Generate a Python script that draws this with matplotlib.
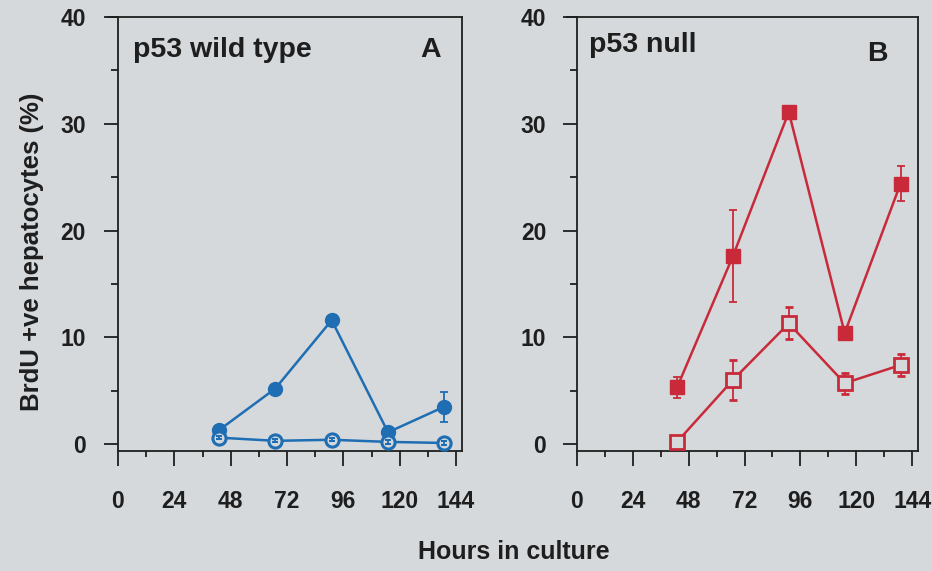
import matplotlib
matplotlib.use("Agg")
import matplotlib.pyplot as plt
from matplotlib.ticker import MultipleLocator
from matplotlib.lines import Line2D

hours = [43, 67, 91, 115, 139]

# Panel A: p53 wild type
wt_filled = [1.3, 5.2, 11.6, 1.1, 3.5]
wt_filled_err = [0.2, 0.2, 0.2, 0.2, 1.4]
wt_open = [0.6, 0.3, 0.4, 0.2, 0.1]
wt_open_err = [0.15, 0.15, 0.15, 0.15, 0.15]

# Panel B: p53 null
null_filled = [5.3, 17.6, 31.1, 10.4, 24.4]
null_filled_err = [1.0, 4.3, 0.3, 0.2, 1.6]
null_open = [0.2, 6.0, 11.3, 5.7, 7.4]
null_open_err = [0.3, 1.9, 1.5, 1.0, 1.0]

xticks = [0, 24, 48, 72, 96, 120, 144]
yticks = [0, 10, 20, 30, 40]

BG = "#d5d9dc"
BLUE = "#1f6db3"
RED = "#c92a3a"
INK = "#1e1e1e"
FONT = "Liberation Sans"

plt.rcParams["font.family"] = FONT
plt.rcParams["font.weight"] = "bold"

fig = plt.figure(figsize=(9.32, 5.71), dpi=100, facecolor=BG)
axA = fig.add_axes([0.1266, 0.2102, 0.3691, 0.7600])
axB = fig.add_axes([0.6190, 0.2102, 0.3660, 0.7600])

def style(ax, ypad):
    ax.set_facecolor(BG)
    ax.set_xlim(0, 146.5)
    ax.set_ylim(-0.65, 40)
    ax.set_xticks(xticks)
    ax.set_yticks(yticks)
    ax.xaxis.set_minor_locator(MultipleLocator(12))
    ax.yaxis.set_minor_locator(MultipleLocator(5))
    ax.tick_params(axis="x", which="major", direction="out", length=11, width=1.3,
                   pad=17, labelsize=16.5, colors=INK)
    ax.tick_params(axis="x", which="minor", direction="out", length=4, width=1.3, colors=INK)
    ax.tick_params(axis="y", which="major", direction="out", length=10, width=1.3,
                   pad=ypad, labelsize=16.5, colors=INK)
    ax.tick_params(axis="y", which="minor", direction="out", length=5, width=1.3, colors=INK)
    for s in ["left", "bottom", "right"]:
        ax.spines[s].set_linewidth(1.3)
        ax.spines[s].set_color(INK)
    ax.spines["top"].set_visible(False)
    ax.add_line(Line2D([-0.03, 1.0], [1.0, 1.0], transform=ax.transAxes,
                       color=INK, lw=1.3, clip_on=False))
    for lab in ax.get_xticklabels() + ax.get_yticklabels():
        lab.set_fontweight("bold")

style(axA, 13)
style(axB, 12)

# Panel A
axA.errorbar(hours, wt_filled, yerr=wt_filled_err, color=BLUE, lw=1.8, marker="o",
             ms=10, mfc=BLUE, mec=BLUE, capsize=3, elinewidth=1.3, capthick=1.3, zorder=3)
axA.plot(hours, wt_open, color=BLUE, lw=1.8, marker="o", ms=9.5, mfc=BG, mec=BLUE,
         mew=2.2, zorder=4)
axA.errorbar(hours, wt_open, yerr=wt_open_err, fmt="none", ecolor=BLUE, capsize=2.5,
             elinewidth=1.3, capthick=1.5, zorder=5)

# Panel B
axB.errorbar(hours, null_filled, yerr=null_filled_err, color=RED, lw=1.8, marker="s",
             ms=10, mfc=RED, mec=RED, capsize=3, elinewidth=1.3, capthick=1.3, zorder=3)
axB.errorbar(hours, null_open, yerr=null_open_err, color=RED, lw=1.8, marker="s",
             ms=9.5, mfc=BG, mec=RED, mew=2.0, capsize=3, elinewidth=1.3, capthick=1.3,
             zorder=4)

axA.text(0.045, 0.925, "p53 wild type", transform=axA.transAxes, fontsize=20.5,
         fontweight="bold", color=INK, va="center", ha="left")
axA.text(0.91, 0.925, "A", transform=axA.transAxes, fontsize=20.5,
         fontweight="bold", color=INK, va="center", ha="center")
axB.text(0.035, 0.935, "p53 null", transform=axB.transAxes, fontsize=20.5,
         fontweight="bold", color=INK, va="center", ha="left")
axB.text(0.88, 0.915, "B", transform=axB.transAxes, fontsize=20.5,
         fontweight="bold", color=INK, va="center", ha="center")

fig.text(0.0345, 0.559, "BrdU +ve hepatocytes (%)", rotation=90, fontsize=18.5,
         fontweight="bold", color=INK, va="center", ha="center")
fig.text(0.551, 0.033, "Hours in culture", fontsize=18, fontweight="bold",
         color=INK, va="center", ha="center")

fig.savefig("out.png", dpi=100, facecolor=BG)
